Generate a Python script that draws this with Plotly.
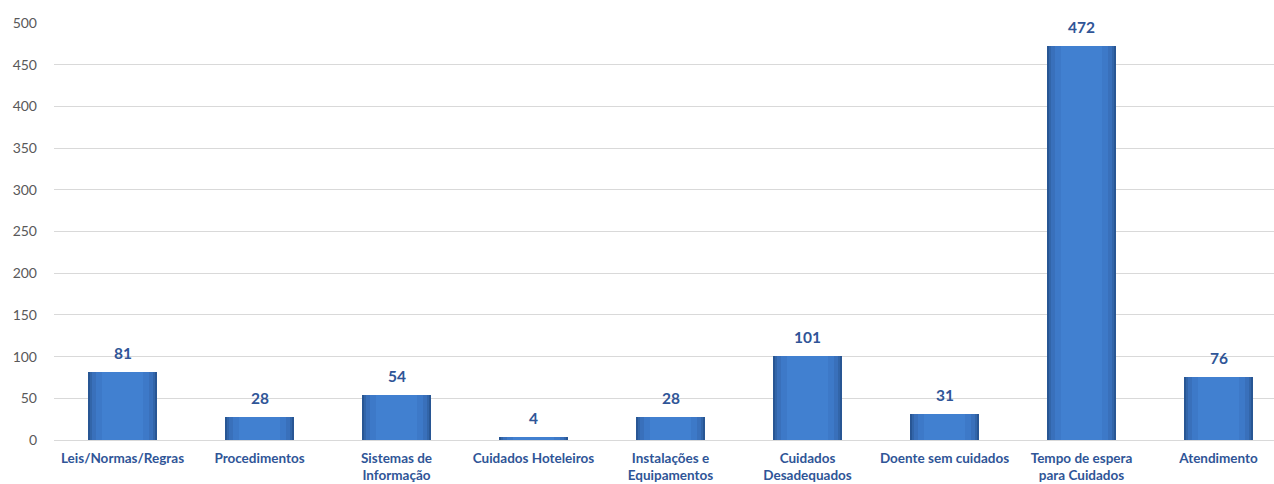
import plotly.graph_objects as go

categories = [
    "Leis/Normas/Regras", "Procedimentos", "Sistemas de<br>Informação",
    "Cuidados Hoteleiros", "Instalações e<br>Equipamentos", "Cuidados<br>Desadequados",
    "Doente sem cuidados", "Tempo de espera<br>para Cuidados", "Atendimento",
]
values = [81, 28, 54, 4, 28, 101, 31, 472, 76]
y_ticks = [0, 50, 100, 150, 200, 250, 300, 350, 400, 450, 500]

FONT = "Lato, 'Open Sans', sans-serif"
LABEL_BLUE = "#2f5597"

fig = go.Figure()

# layered bars of the same value give a bevelled, shaded column
layers = [
    (0.51, "#285694"),
    (0.48, "#3265a9"),
    (0.44, "#3970bb"),
    (0.38, "#3d79c8"),
    (0.30, "#4180d0"),
]
for w, c in layers:
    fig.add_trace(go.Bar(
        x=categories, y=values, width=w,
        marker=dict(color=c, line=dict(width=0)),
        hoverinfo="skip", showlegend=False,
    ))

for cat, v in zip(categories, values):
    fig.add_annotation(
        x=cat, y=v, text=f"<b>{v}</b>", showarrow=False,
        yshift=19, font=dict(family=FONT, size=15.5, color=LABEL_BLUE),
    )

fig.update_layout(
    width=1274, height=484,
    margin=dict(l=54, r=0, t=23, b=44),
    paper_bgcolor="white", plot_bgcolor="white",
    barmode="overlay", bargap=0,
    font=dict(family=FONT),
    xaxis=dict(
        range=[-0.5, 8.405], showgrid=False, showline=False,
        tickfont=dict(family=FONT, size=13.5, color=LABEL_BLUE),
        tickprefix="<b>", ticksuffix="</b>", ticks="", zeroline=False,
        ticklabelstandoff=8,
    ),
    yaxis=dict(
        range=[0, 500], tickvals=y_ticks, showgrid=True,
        gridcolor="#d9d9d9", gridwidth=1, zeroline=True,
        zerolinecolor="#d9d9d9", zerolinewidth=1, showline=False,
        tickfont=dict(family=FONT, size=14, color="#595959"),
        ticklabelstandoff=16, ticks="",
    ),
)

fig.write_html("out.html")
